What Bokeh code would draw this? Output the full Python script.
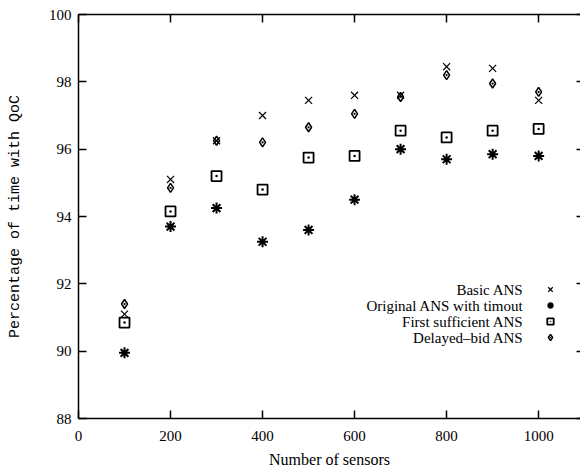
from bokeh.plotting import figure
from bokeh.models import (Range1d, FixedTicker, LinearAxis, Legend, LegendItem, Label,
                          CustomLabelingPolicy)
from bokeh.embed import file_html
from bokeh.resources import INLINE

# Number of sensors in each run
sensors = [100, 200, 300, 400, 500, 600, 700, 800, 900, 1000]

# Percentage of time with QoC for each auction scheme
basic_ans = [91.1, 95.1, 96.25, 97.0, 97.45, 97.6, 97.6, 98.45, 98.4, 97.45]
original_ans_timeout = [89.95, 93.7, 94.25, 93.25, 93.6, 94.5, 96.0, 95.7, 95.85, 95.8]
first_sufficient_ans = [90.85, 94.15, 95.2, 94.8, 95.75, 95.8, 96.55, 96.35, 96.55, 96.6]
delayed_bid_ans = [91.4, 94.85, 96.25, 96.2, 96.65, 97.05, 97.55, 98.2, 97.95, 97.7]

series_labels = ["Basic ANS", "Original ANS with timout",
                 "First sufficient ANS", "Delayed\u2013bid ANS"]

x_ticks = [0, 200, 400, 600, 800, 1000]
y_ticks = [88, 90, 92, 94, 96, 98, 100]

SERIF = "Liberation Serif"

p = figure(width=580, height=470, output_backend="svg", toolbar_location=None,
           x_range=Range1d(0, 1091), y_range=Range1d(88, 100),
           x_axis_location=None, y_axis_location=None,
           min_border_left=78, min_border_top=14, min_border_right=0,
           min_border_bottom=52)
p.background_fill_color = "white"
p.border_fill_color = "white"
p.outline_line_color = None
p.xgrid.visible = False
p.ygrid.visible = False

# mirrored axes carry tick marks only: drop every label
no_labels = CustomLabelingPolicy(code="return new indices.constructor(indices.size)")


def style_axis(ax, tick_in=8, labels=True):
    ax.axis_line_color = "black"
    ax.axis_line_width = 1.5
    ax.major_tick_line_color = "black"
    ax.major_tick_line_width = 1.5
    ax.major_tick_in = tick_in
    ax.major_tick_out = 0
    ax.minor_tick_line_color = None
    if labels:
        ax.major_label_text_font = SERIF
        ax.major_label_text_font_size = "15px"
        ax.major_label_text_color = "black"
    else:
        ax.major_label_policy = no_labels
        ax.major_label_text_font_size = "0px"
        ax.major_label_standoff = 0


xb = LinearAxis(ticker=FixedTicker(ticks=x_ticks), axis_label="Number of sensors")
style_axis(xb)
xb.major_label_standoff = 12
xb.axis_label_standoff = 7
xb.axis_label_text_font = SERIF
xb.axis_label_text_font_size = "16px"
xb.axis_label_text_font_style = "normal"
xb.axis_label_text_color = "black"
p.add_layout(xb, "below")

yl = LinearAxis(ticker=FixedTicker(ticks=y_ticks), axis_label="Percentage of time with QoC")
style_axis(yl)
yl.major_label_standoff = 7
yl.axis_label_standoff = 22
yl.axis_label_text_font = "Liberation Mono"
yl.axis_label_text_font_size = "15px"
yl.axis_label_text_font_style = "normal"
yl.axis_label_text_color = "black"
p.add_layout(yl, "left")

xt = LinearAxis(ticker=FixedTicker(ticks=x_ticks))
style_axis(xt, labels=False)
p.add_layout(xt, "above")

yr = LinearAxis(ticker=FixedTicker(ticks=y_ticks))
style_axis(yr, tick_in=4, labels=False)
yr.axis_line_color = None
p.add_layout(yr, "right")

r_basic = p.scatter(sensors, basic_ans, marker="x", size=10,
                    line_color="black", line_width=1.2)
r_orig = p.scatter(sensors, original_ans_timeout, marker="asterisk", size=11,
                   line_color="black", line_width=2)
r_first = p.scatter(sensors, first_sufficient_ans, marker="square_dot", size=10,
                    line_color="black", line_width=1.8, fill_color=None)
r_delay = p.scatter(sensors, delayed_bid_ans, marker="diamond_dot", size=9,
                    line_color="black", line_width=1.5, fill_color=None)

# Key: markers on the right, right-aligned captions to their left
legend = Legend(items=[LegendItem(label="", renderers=[r])
                       for r in (r_basic, r_orig, r_first, r_delay)],
                location=(462, 73), orientation="vertical",
                glyph_width=20, glyph_height=16, label_height=16,
                label_width=0, label_standoff=0, spacing=0, padding=0, margin=0,
                border_line_color=None, background_fill_alpha=0)
p.add_layout(legend, "center")

for i, txt in enumerate(series_labels):
    p.add_layout(Label(x=523 - 78, y=418 - 289 - 16 * i, x_units="screen", y_units="screen",
                       text=txt, text_align="right", text_baseline="middle",
                       text_font=SERIF, text_font_size="15px", text_color="black"))

open("out.html", "w").write(file_html(p, INLINE))
